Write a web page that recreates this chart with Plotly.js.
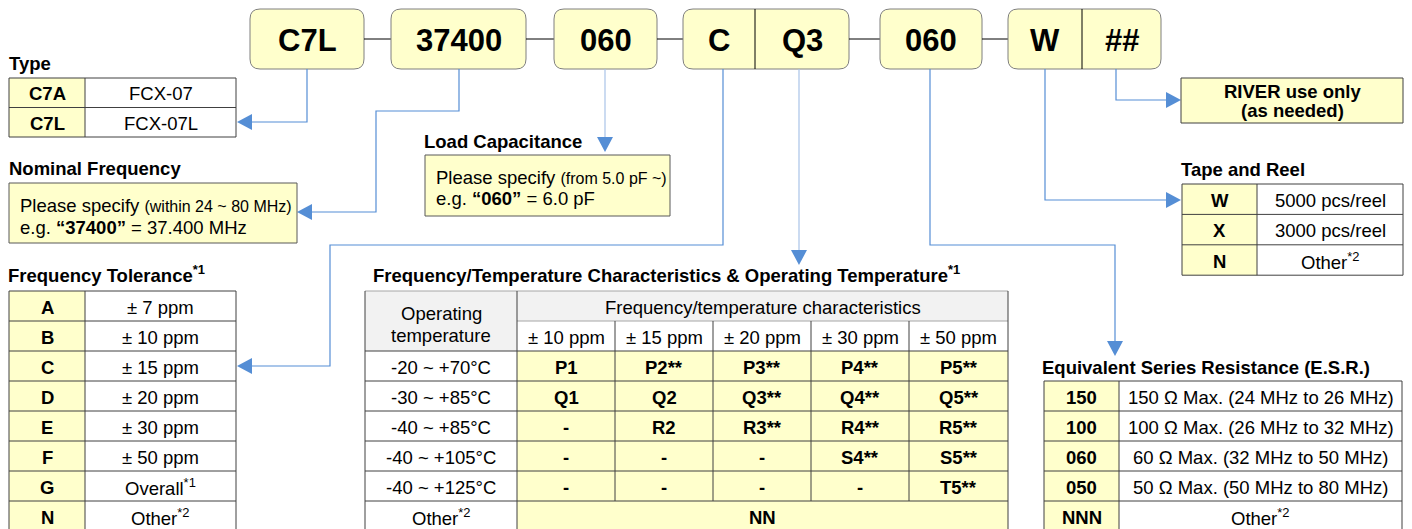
<!DOCTYPE html>
<html><head><meta charset="utf-8">
<script src="https://cdn.plot.ly/plotly-3.0.1.min.js"></script>
<style>html,body{margin:0;padding:0;background:#fff;overflow:hidden}#chart{width:1412px;height:529px}</style>
</head><body><div id="chart"></div>
<script>
// ---------------- data ----------------
const codeSegments = ["C7L", "37400", "060", "C", "Q3", "060", "W", "##"];

const typeCodes = ["C7A", "C7L"];
const typeNames = ["FCX-07", "FCX-07L"];

const toleranceCodes = ["A", "B", "C", "D", "E", "F", "G", "N"];
const toleranceValues = ["± 7 ppm", "± 10 ppm", "± 15 ppm", "± 20 ppm", "± 30 ppm", "± 50 ppm", "Overall<sup>*1</sup>", "Other<sup>*2</sup>"];

const ftcHeaders = ["± 10 ppm", "± 15 ppm", "± 20 ppm", "± 30 ppm", "± 50 ppm"];
const tempRanges = ["-20 ~ +70°C", "-30 ~ +85°C", "-40 ~ +85°C", "-40 ~ +105°C", "-40 ~ +125°C"];
const ftcRowP = ["P1", "P2**", "P3**", "P4**", "P5**"];
const ftcRowQ = ["Q1", "Q2", "Q3**", "Q4**", "Q5**"];
const ftcRowR = ["-", "R2", "R3**", "R4**", "R5**"];
const ftcRowS = ["-", "-", "-", "S4**", "S5**"];
const ftcRowT = ["-", "-", "-", "-", "T5**"];
const ftcOtherLabel = "Other<sup>*2</sup>";
const ftcOtherCode = "NN";

const reelCodes = ["W", "X", "N"];
const reelValues = ["5000 pcs/reel", "3000 pcs/reel", "Other<sup>*2</sup>"];

const esrCodes = ["150", "100", "060", "050", "NNN"];
const esrValues = ["150 Ω Max. (24 MHz to 26 MHz)", "100 Ω Max. (26 MHz to 32 MHz)", "60 Ω Max. (32 MHz to 50 MHz)", "50 Ω Max. (50 MHz to 80 MHz)", "Other<sup>*2</sup>"];

const titles = {
  type: "Type",
  nominal: "Nominal Frequency",
  load: "Load Capacitance",
  tolerance: "Frequency Tolerance<sup>*1</sup>",
  ftc: "Frequency/Temperature Characteristics & Operating Temperature<sup>*1</sup>",
  reel: "Tape and Reel",
  esr: "Equivalent Series Resistance (E.S.R.)"
};
const nominalLines = ["Please specify <span style=\"font-size:16px\">(within 24 ~ 80 MHz)</span>", "e.g. <b>“37400”</b> = 37.400 MHz"];
const loadLines = ["Please specify <span style=\"font-size:16px\">(from 5.0 pF ~)</span>", "e.g. <b>“060”</b> = 6.0 pF"];
const riverLines = ["RIVER use only", "(as needed)"];

// ---------------- styling / geometry ----------------
const YELLOW = "#ffffcc", GRAYFILL = "#f2f2f2", BORDER = "#404040", LIGHTBORDER = "#a6a6a6";
const BLUE = "#558ed5", LIGHTBLUE = "#a9c3e8";
const FONT = "'Liberation Sans', Arial, sans-serif";
const TS = 18.5;   // table text size
const HS = 18.5;   // section title size

const shapes = [], annotations = [];
function rect(x0, y0, x1, y1, fill, line, lw) {
  shapes.push({type: 'rect', xref: 'x', yref: 'y', x0, y0, x1, y1, layer: 'above',
    fillcolor: fill || 'rgba(0,0,0,0)', line: {color: line || 'rgba(0,0,0,0)', width: line ? (lw || 1) : 0}});
}
function seg(x0, y0, x1, y1, color, w) {
  shapes.push({type: 'line', xref: 'x', yref: 'y', x0, y0, x1, y1, layer: 'above', line: {color, width: w || 1}});
}
function path(d, fill, line, lw) {
  shapes.push({type: 'path', xref: 'x', yref: 'y', path: d, layer: 'above',
    fillcolor: fill || 'rgba(0,0,0,0)', line: {color: line || 'rgba(0,0,0,0)', width: line ? (lw || 1) : 0}});
}
function txt(x, y, t, size, anchor) {
  annotations.push({x, y, xref: 'x', yref: 'y', text: t, showarrow: false,
    xanchor: anchor || 'center', yanchor: 'middle', align: anchor || 'center',
    font: {family: FONT, size, color: '#000'}, borderpad: 0});
}
function roundRect(x0, y0, x1, y1, r) {
  return `M${x0 + r},${y0} L${x1 - r},${y0} Q${x1},${y0} ${x1},${y0 + r} L${x1},${y1 - r} Q${x1},${y1} ${x1 - r},${y1} ` +
         `L${x0 + r},${y1} Q${x0},${y1} ${x0},${y1 - r} L${x0},${y0 + r} Q${x0},${y0} ${x0 + r},${y0} Z`;
}

// ---- top part-number boxes ----
const BOX_Y0 = 9, BOX_Y1 = 69;
const segX = [[250, 364], [391, 526], [554, 657], [683, 755], [755, 849], [880, 982], [1008, 1082], [1082, 1161]];
const boxGroups = [[0], [1], [2], [3, 4], [5], [6, 7]];
boxGroups.forEach((g, gi) => {
  const x0 = segX[g[0]][0], x1 = segX[g[g.length - 1]][1];
  path(roundRect(x0, BOX_Y0, x1, BOX_Y1, 10), YELLOW, "#7f7f7f", 1);
  for (let k = 0; k < g.length - 1; k++) seg(segX[g[k]][1], BOX_Y0, segX[g[k]][1], BOX_Y1, "#000", 1);
  if (gi < boxGroups.length - 1) {
    const nx = segX[boxGroups[gi + 1][0]][0];
    seg(x1, 39, nx, 39, "#000", 1);
  }
});
codeSegments.forEach((c, i) => txt((segX[i][0] + segX[i][1]) / 2, 40, "<b>" + c + "</b>", 31));

// ---- blue connectors ----
function arrow(tip, dir) {
  const [x, y] = tip, L = 15, h = 8;
  let d;
  if (dir === 'left') d = `M${x},${y} L${x + L},${y - h} L${x + L},${y + h} Z`;
  else if (dir === 'right') d = `M${x},${y} L${x - L},${y - h} L${x - L},${y + h} Z`;
  else d = `M${x},${y} L${x - h},${y - L} L${x + h},${y - L} Z`;
  path(d, BLUE, null);
}
const connectors = [
  {pts: [[307, 69], [307, 122], [252, 122]], tip: [237, 122], dir: 'left', c: BLUE},
  {pts: [[459, 69], [459, 111], [376, 111], [376, 212], [312, 212]], tip: [297, 212], dir: 'left', c: BLUE},
  {pts: [[605, 69], [605, 137]], tip: [605, 152], dir: 'down', c: LIGHTBLUE},
  {pts: [[723, 69], [723, 245], [330, 245], [330, 366], [252, 366]], tip: [237, 366], dir: 'left', c: BLUE},
  {pts: [[799, 69], [799, 250]], tip: [799, 265], dir: 'down', c: LIGHTBLUE},
  {pts: [[930, 69], [930, 245], [1115, 245], [1115, 341]], tip: [1115, 356], dir: 'down', c: BLUE},
  {pts: [[1045, 69], [1045, 200], [1166, 200]], tip: [1181, 200], dir: 'right', c: BLUE},
  {pts: [[1116, 69], [1116, 100], [1166, 100]], tip: [1181, 100], dir: 'right', c: BLUE}
];
connectors.forEach(cn => {
  path("M" + cn.pts.map(p => p[0] + "," + p[1]).join(" L"), null, cn.c, 1.2);
  arrow(cn.tip, cn.dir);
});

// ---- generic two-column code table ----
function codeTable(x0, xm, x1, yTop, rowH, codes, values) {
  const n = codes.length, yBot = yTop + rowH * n;
  rect(x0, yTop, xm, yBot, YELLOW, null);
  for (let i = 1; i < n; i++) seg(x0, yTop + rowH * i, x1, yTop + rowH * i, BORDER, 1);
  seg(xm, yTop, xm, yBot, BORDER, 1);
  rect(x0, yTop, x1, yBot, null, BORDER, 1);
  codes.forEach((c, i) => {
    const yc = yTop + rowH * (i + 0.5) + 1;
    txt((x0 + xm) / 2, yc, "<b>" + c + "</b>", TS);
    txt((xm + x1) / 2, yc, values[i], TS);
  });
}

// Type
txt(8, 63, "<b>" + titles.type + "</b>", HS, 'left');
codeTable(9, 85, 236, 78, 29.5, typeCodes, typeNames);

// Nominal frequency
txt(8, 168, "<b>" + titles.nominal + "</b>", HS, 'left');
rect(9, 183, 297, 243, YELLOW, "#595959", 1);
txt(19, 205, nominalLines[0], TS, 'left');
txt(19, 227, nominalLines[1], TS, 'left');

// Load capacitance
txt(423, 141, "<b>" + titles.load + "</b>", HS, 'left');
rect(425, 155, 670, 216, YELLOW, "#595959", 1);
txt(435, 177, loadLines[0], TS, 'left');
txt(435, 198, loadLines[1], TS, 'left');

// Frequency tolerance
txt(7, 274, "<b>" + titles.tolerance + "</b>", HS, 'left');
codeTable(9, 85, 236, 291, 30, toleranceCodes, toleranceValues);

// RIVER box
rect(1181, 78, 1403, 123, YELLOW, BORDER, 1);
txt(1292, 91, "<b>" + riverLines[0] + "</b>", TS);
txt(1292, 110, "<b>" + riverLines[1] + "</b>", TS);

// Tape and reel
txt(1180, 169, "<b>" + titles.reel + "</b>", HS, 'left');
codeTable(1182, 1257, 1403, 184, 30.4, reelCodes, reelValues);

// ESR
txt(1041, 367, "<b>" + titles.esr + "</b>", HS, 'left');
codeTable(1044, 1119, 1402, 381, 30, esrCodes, esrValues);

// ---- frequency/temperature table ----
txt(372, 274, "<b>" + titles.ftc + "</b>", HS, 'left');
(function () {
  const xs = [365, 517, 615, 713, 811, 909, 1008];
  const ys = [291, 321, 351, 381, 411, 441, 471, 501, 531];
  const rows = [ftcRowP, ftcRowQ, ftcRowR, ftcRowS, ftcRowT];
  rect(xs[0], ys[0], xs[1], ys[2], GRAYFILL, null);
  rect(xs[1], ys[0], xs[6], ys[1], GRAYFILL, null);
  rect(xs[1], ys[2], xs[6], ys[8], YELLOW, null);
  // lines
  seg(xs[0], ys[0], xs[6], ys[0], LIGHTBORDER, 1);
  seg(xs[1], ys[1], xs[6], ys[1], LIGHTBORDER, 1);
  for (let r = 2; r <= 7; r++) seg(xs[0], ys[r], xs[6], ys[r], BORDER, 1);
  seg(xs[0], ys[0], xs[0], ys[8], BORDER, 1);
  seg(xs[6], ys[0], xs[6], ys[8], BORDER, 1);
  seg(xs[1], ys[0], xs[1], ys[8], BORDER, 1);
  for (let c = 2; c <= 5; c++) seg(xs[c], ys[1], xs[c], ys[7], BORDER, 1);
  // header text
  txt((xs[0] + xs[1]) / 2, 313, "Operating", TS);
  txt((xs[0] + xs[1]) / 2, 335, "temperature", TS);
  txt((xs[1] + xs[6]) / 2, 307, "Frequency/temperature characteristics", TS);
  ftcHeaders.forEach((h, c) => txt((xs[c + 1] + xs[c + 2]) / 2, 337, h, TS));
  tempRanges.forEach((t, r) => {
    const yc = (ys[r + 2] + ys[r + 3]) / 2 + 1;
    txt((xs[0] + xs[1]) / 2, yc, t, TS);
    rows[r].forEach((v, c) => txt((xs[c + 1] + xs[c + 2]) / 2, yc, "<b>" + v + "</b>", TS));
  });
  txt((xs[0] + xs[1]) / 2, 517, ftcOtherLabel, TS);
  txt((xs[1] + xs[6]) / 2, 517, "<b>" + ftcOtherCode + "</b>", TS);
})();

const layout = {
  width: 1412, height: 529,
  margin: {l: 0, r: 0, t: 0, b: 0},
  paper_bgcolor: '#ffffff', plot_bgcolor: '#ffffff',
  showlegend: false,
  font: {family: FONT, color: '#000'},
  xaxis: {range: [0, 1412], visible: false, fixedrange: true},
  yaxis: {range: [529, 0], visible: false, fixedrange: true},
  shapes, annotations
};
Plotly.newPlot('chart', [{type: 'scatter', x: [], y: [], mode: 'markers', hoverinfo: 'skip'}], layout, {displayModeBar: false, staticPlot: true});
</script>
</body></html>
